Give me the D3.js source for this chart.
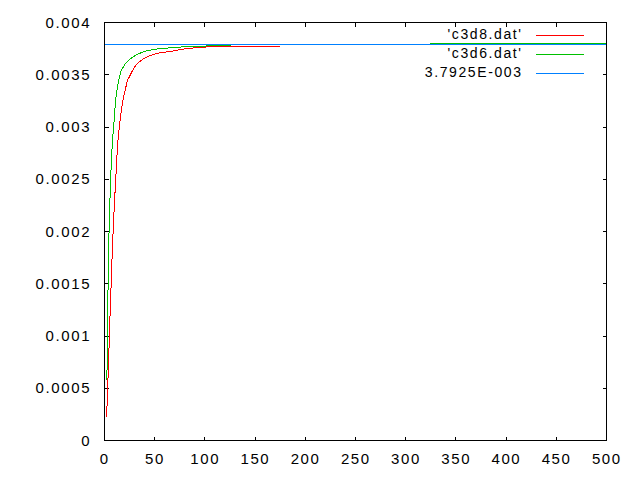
<!DOCTYPE html>
<html><head><meta charset="utf-8">
<script src="https://cdn.jsdelivr.net/npm/d3@7"></script>
<style>body{margin:0;background:#fff}svg{display:block}</style>
</head><body>
<svg id="c" width="640" height="480"></svg>
<script>
// data
const c3d8X = [2.0, 2.7, 3.7, 4.7, 5.7, 6.7, 7.7, 8.7, 9.7, 10.7, 12.0, 13.0, 14.7, 16.3, 18.9, 22.9, 28.9, 32.3, 38.9, 45.5, 53.8, 67.2, 80.4, 97.1, 123.3, 175.0];
const c3d8Y = [0.000229, 0.000373, 0.000647, 0.000946, 0.001249, 0.001519, 0.001793, 0.002032, 0.002235, 0.002414, 0.002653, 0.002825, 0.003000, 0.003128, 0.003286, 0.003446, 0.003558, 0.003605, 0.003653, 0.003685, 0.003707, 0.003726, 0.003749, 0.003764, 0.003773, 0.003773];
const c3d6X = [2.4, 2.7, 3.4, 4.0, 5.0, 6.0, 7.0, 8.0, 9.0, 10.0, 11.4, 14.0, 16.6, 20.6, 25.6, 32.3, 40.6, 53.8, 73.5, 90.4, 125.0, 126.0, 324.0, 325.0, 500.0];
const c3d6Y = [0.000580, 0.000850, 0.001363, 0.001805, 0.002175, 0.002474, 0.002701, 0.002892, 0.002968, 0.003128, 0.003286, 0.003446, 0.003541, 0.003605, 0.003653, 0.003694, 0.003726, 0.003749, 0.003764, 0.003773, 0.003780, 0.0037925, 0.0037925, 0.003800, 0.003800];
const fitValue = 3.7925e-3;
const legendLabels = ["'c3d8.dat'", "'c3d6.dat'", "3.7925E-003"];
const xTicks = [0, 50, 100, 150, 200, 250, 300, 350, 400, 450, 500];
const yTicks = [0, 0.0005, 0.001, 0.0015, 0.002, 0.0025, 0.003, 0.0035, 0.004];
const yTickLabels = ["0", "0.0005", "0.001", "0.0015", "0.002", "0.0025", "0.003", "0.0035", "0.004"];
const colors = ["#ff0000", "#00c000", "#0080ff"];

const svg = d3.select("#c");
const L = 104.5, R = 606.5, T = 22.5, B = 440.5;
const x = d3.scaleLinear().domain([0, 500]).range([L, R]);
const y = d3.scaleLinear().domain([0, 0.004]).range([B, T]);
const font = "'Liberation Sans', Arial, sans-serif";
const ls = 1.6;

// ticks (mirrored, inward)
const tk = 4;
const g = svg.append("g").attr("stroke", "#000").attr("stroke-width", 1).attr("shape-rendering", "crispEdges");
yTicks.forEach(v => {
  const yy = Math.round(y(v) - 0.5) + 0.5;
  g.append("line").attr("x1", L).attr("x2", L + tk).attr("y1", yy).attr("y2", yy);
  g.append("line").attr("x1", R - tk).attr("x2", R).attr("y1", yy).attr("y2", yy);
});
xTicks.forEach(v => {
  const xx = Math.round(x(v) - 0.5) + 0.5;
  g.append("line").attr("x1", xx).attr("x2", xx).attr("y1", B).attr("y2", B - tk);
  g.append("line").attr("x1", xx).attr("x2", xx).attr("y1", T).attr("y2", T + tk);
});

// tick labels
yTicks.forEach((v, i) => {
  svg.append("text").attr("x", 89.5 + ls).attr("y", y(v) + 5.2)
    .attr("text-anchor", "end").attr("font-family", font).attr("font-size", 15)
    .attr("letter-spacing", ls).attr("fill", "#000").text(yTickLabels[i]);
});
xTicks.forEach(v => {
  svg.append("text").attr("x", x(v) + ls / 2 - 0.5).attr("y", 463.8)
    .attr("text-anchor", "middle").attr("font-family", font).attr("font-size", 15)
    .attr("letter-spacing", ls).attr("fill", "#000").text(String(v));
});

// series
const line = d3.line().x(d => x(d[0])).y(d => y(d[1]));
const s1 = c3d8X.map((v, i) => [v, c3d8Y[i]]);
const s2 = c3d6X.map((v, i) => [v, c3d6Y[i]]);
const s3 = [[0, fitValue], [500, fitValue]];
[s1, s2, s3].forEach((s, i) => {
  svg.append("path").attr("d", line(s)).attr("fill", "none")
    .attr("stroke", colors[i]).attr("stroke-width", 1).attr("shape-rendering", "crispEdges");
});

// legend
const legY = [35, 54, 73];
legendLabels.forEach((t, i) => {
  svg.append("text").attr("x", 521 + ls).attr("y", legY[i] + 3.5)
    .attr("text-anchor", "end").attr("font-family", font).attr("font-size", 14)
    .attr("letter-spacing", ls).attr("fill", "#000").text(t);
  svg.append("line").attr("x1", 536).attr("x2", 584).attr("y1", legY[i] + 0.5).attr("y2", legY[i] + 0.5)
    .attr("stroke", colors[i]).attr("stroke-width", 1).attr("shape-rendering", "crispEdges");
});

// border
svg.append("rect").attr("x", L).attr("y", T).attr("width", R - L).attr("height", B - T)
  .attr("fill", "none").attr("stroke", "#000").attr("stroke-width", 1).attr("shape-rendering", "crispEdges");
</script>
</body></html>
